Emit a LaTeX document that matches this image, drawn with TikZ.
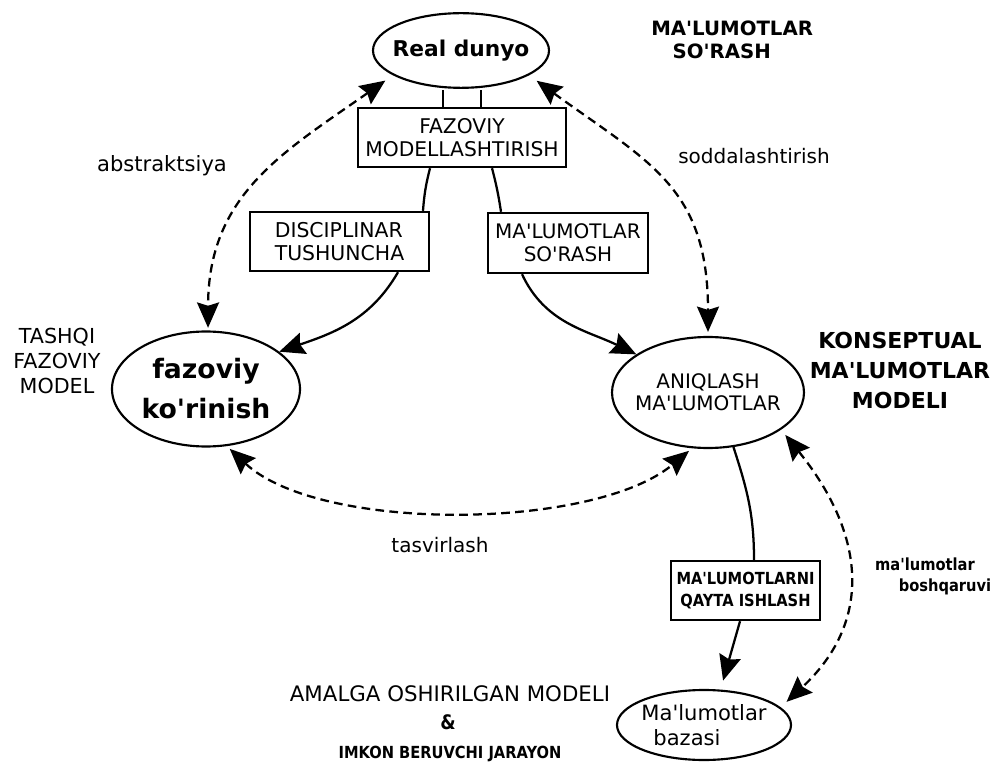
\documentclass[tikz,border=0pt]{standalone}
\usepackage{fontspec}
\setmainfont{DejaVu Sans}[Ligatures=TeXOff]
\newfontfamily\narrowbold[FakeStretch=0.88]{DejaVu Sans Bold}
\usetikzlibrary{arrows.meta,shapes.geometric,calc}

\newcommand{\fsz}[2]{\fontsize{#1}{#2}\selectfont}

\begin{document}
\begin{tikzpicture}[x=0.75pt,y=-0.75pt,
  ell/.style={ellipse,draw,line width=1.6pt,inner sep=0pt},
  boxn/.style={rectangle,draw,line width=1.8pt,inner sep=0pt,align=center},
  lbl/.style={inner sep=0pt,align=center},
  con/.style={line width=1.7pt},
  arr/.style={con,-{Stealth[length=19pt,width=16.5pt,inset=2.5pt]}},
  darr/.style={con,dash pattern=on 6.5pt off 4pt,
    {Stealth[length=19pt,width=16.5pt,inset=2.5pt]}-{Stealth[length=19pt,width=16.5pt,inset=2.5pt]}}
]
\useasboundingbox (0,0) rectangle (998,762);

% ellipses (text placed as centred labels so the outline keeps its size)
\node[ell,minimum width=132pt,minimum height=56pt,
  label={[inner sep=0pt,font=\bfseries\fsz{16.3}{19}]center:Real dunyo}] (rd) at (461,50.5) {};
\node[ell,minimum width=141pt,minimum height=86.25pt,
  label={[inner sep=0pt,align=center,font=\bfseries\fsz{20}{30}]center:fazoviy\\ko'rinish}] (fv) at (206,389) {};
\node[ell,minimum width=144pt,minimum height=83.25pt,
  label={[inner sep=0pt,align=center,font=\fsz{15}{16.5}]center:ANIQLASH\\MA'LUMOTLAR}] (an) at (708,392.5) {};
\node[ell,minimum width=130.5pt,minimum height=52.5pt,
  label={[inner sep=0pt,align=left,font=\fsz{15.8}{18.75}]center:Ma'lumotlar\\\hspace*{9pt}bazasi}] (db) at (704,725) {};

% boxes
\node[boxn,minimum width=156pt,minimum height=44.25pt,font=\fsz{15.2}{17}] (fm) at (462,137.5) {FAZOVIY\\MODELLASHTIRISH};
\node[boxn,minimum width=134.25pt,minimum height=44.25pt,align=left,font=\fsz{15.3}{17}] (dt) at (339.5,241.5) {DISCIPLINAR\\TUSHUNCHA};
\node[boxn,minimum width=120pt,minimum height=45pt,font=\fsz{15}{17}] (so) at (568,243) {MA'LUMOTLAR\\SO'RASH};
\node[boxn,minimum width=111.75pt,minimum height=44.25pt,font=\narrowbold\fsz{12.5}{17}] (qi) at (745.5,590.5) {MA'LUMOTLARNI\\QAYTA ISHLASH};

% short ties between the world ellipse and the modelling box
\draw[con] ($(fm.north)+(-19,0)$) -- ($(rd.south)+(-18,1)$);
\draw[con] ($(fm.north)+(19,0)$) -- ($(rd.south)+(20,1)$);

% solid flow
\draw[con] ($(fm.south)+(-32,0)$) to[bend right=5] ($(dt.north)+(83.5,0)$);
\draw[con] ($(fm.south)+(30,0)$) to[bend left=3] ($(so.north)+(-67,0)$);
\draw[arr] ($(dt.south)+(58.5,0)$) to[out=-120,in=19] (fv.27);
\draw[arr] ($(so.south)+(-46,0)$) to[out=-65,in=154] (an.152);
\draw[con] (an.-65) to[out=-72,in=90] ($(qi.north)+(8.5,0)$);
\draw[arr,shorten >=7pt] ($(qi.south)+(-5.5,0)$) -- (db.65);

% dashed two-way relations
\draw[darr,shorten <=7pt,shorten >=2pt] (rd.200) to[out=215,in=90,looseness=1.1] (fv.88);
\draw[darr,shorten <=7pt,shorten >=3pt] (rd.-20) to[out=-36,in=90,looseness=1.2] (an.north);
\draw[darr,shorten <=3pt,shorten >=3pt] (fv.-70) to[out=-43,in=-140,looseness=0.7] (an.-106);
\draw[darr,shorten <=5pt,shorten >=6pt] (an.-27) to[out=-51,in=43,looseness=1.2] (db.13);

% labels
\node[lbl,align=left,anchor=north west,font=\bfseries\fsz{14.8}{17}] (tq) at (651,21) {MA'LUMOTLAR\\\hspace*{16pt}SO'RASH};
\node[lbl,font=\fsz{15.8}{18}] (la) at (162,166) {abstraktsiya};
\node[lbl,font=\fsz{15}{18}] (ls) at (754,156) {soddalashtirish};
\node[lbl,font=\fsz{15}{18}] (lt) at (440,545) {tasvirlash};
\node[lbl,font=\fsz{15.5}{18.75}] (lx) at (57,361) {TASHQI\\FAZOVIY\\MODEL};
\node[lbl,font=\bfseries\fsz{16.5}{22.5}] (lk) at (900,370) {KONSEPTUAL\\MA'LUMOTLAR\\MODELI};
\node[lbl,font=\narrowbold\fsz{12.5}{13}] (lm1) at (925,564) {ma'lumotlar};
\node[lbl,font=\narrowbold\fsz{12.5}{13}] (lm2) at (945,587) {boshqaruvi};
\node[lbl,font=\fsz{16}{18}] (lam) at (450,694) {AMALGA OSHIRILGAN MODELI};
\node[lbl,font=\narrowbold\fsz{15}{16}] (land) at (448,722) {\&};
\node[lbl,font=\narrowbold\fsz{12.5}{13}] (lim) at (450,754) {IMKON BERUVCHI JARAYON};
\end{tikzpicture}
\end{document}
